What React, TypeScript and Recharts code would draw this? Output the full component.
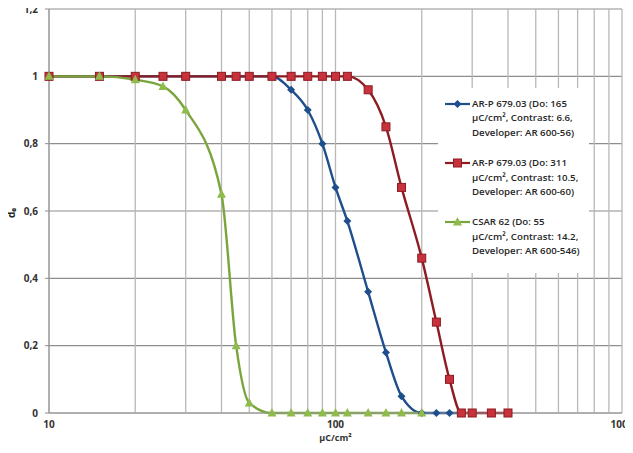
import React from "react";
import {
  LineChart,
  Line,
  XAxis,
  YAxis,
  CartesianGrid,
  Legend,
  Label,
} from "recharts";

// dose steps in µC/cm² (log axis)
const doses = [10, 15, 20, 25, 30, 40, 45, 50, 60, 70, 80, 90, 100, 110, 130, 150, 170, 200, 225, 250, 275, 300, 350, 400];

// remaining normalized film thickness per resist
const arp165 = [1, 1, 1, 1, 1, 1, 1, 1, 1, 0.96, 0.9, 0.8, 0.67, 0.57, 0.36, 0.18, 0.05, 0, 0, 0, 0, null, null, null];
const arp311 = [1, 1, 1, 1, 1, 1, 1, 1, 1, 1, 1, 1, 1, 1, 0.96, 0.85, 0.67, 0.46, 0.27, 0.1, 0, 0, 0, 0];
const csar62 = [1, 1, 0.99, 0.97, 0.9, 0.65, 0.2, 0.03, 0, 0, 0, 0, 0, 0, 0, 0, 0, 0, null, null, null, null, null, null];

const xTicks = [10, 20, 30, 40, 50, 60, 70, 80, 90, 100, 200, 300, 400, 500, 600, 700, 800, 900, 1000];
const xLabels = [10, 100, 1000];
const yTicks = [0, 0.2, 0.4, 0.6, 0.8, 1, 1.2];

const legendLabels = [
  ["AR-P 679.03 (Do: 165", "µC/cm², Contrast: 6.6,", "Developer: AR 600-56)"],
  ["AR-P 679.03 (Do: 311", "µC/cm², Contrast: 10.5,", "Developer: AR 600-60)"],
  ["CSAR 62 (Do: 55", "µC/cm², Contrast: 14.2,", "Developer: AR 600-546)"],
];

const rows = doses.map((d, i) => ({
  dose: d,
  arp165: arp165[i],
  arp311: arp311[i],
  csar62: csar62[i],
}));

const BLUE = "#1f4e8c";
const RED_LINE = "#8c1c22";
const RED_FILL = "#c8323c";
const GREEN_LINE = "#79a63c";
const GREEN_FILL = "#8fbb4c";

const FONT = "'Open Sans', 'Liberation Sans', sans-serif";

function Diamond({ cx, cy }: { cx: number; cy: number }) {
  return <path d={`M${cx},${cy - 4}L${cx + 4},${cy}L${cx},${cy + 4}L${cx - 4},${cy}Z`} fill={BLUE} />;
}

function Square({ cx, cy }: { cx: number; cy: number }) {
  return <rect x={cx - 4} y={cy - 4} width={8} height={8} fill={RED_FILL} stroke={RED_LINE} strokeWidth={1} />;
}

function Triangle({ cx, cy }: { cx: number; cy: number }) {
  return <path d={`M${cx},${cy - 5}L${cx + 4.5},${cy + 3.5}L${cx - 4.5},${cy + 3.5}Z`} fill={GREEN_FILL} />;
}

const markers = [Diamond, Square, Triangle];
const lineColors = [BLUE, RED_LINE, GREEN_LINE];

function makeDot(Shape: typeof Diamond) {
  return (props: any) => {
    const { cx, cy, index, value } = props;
    if (value == null || cy == null || isNaN(cy)) return <g key={`e${index}`} />;
    return <Shape key={`m${index}`} cx={cx} cy={cy} />;
  };
}

function LegendBox() {
  return (
    <div
      style={{
        background: "#fff",
        width: 151,
        paddingTop: 9,
        paddingBottom: 14,
        fontFamily: FONT,
        fontSize: 9.7,
        fontWeight: 600,
        color: "#262626",
        lineHeight: "14.4px",
      }}
    >
      {legendLabels.map((lines, i) => {
        const Shape = markers[i];
        return (
          <div key={i} style={{ display: "flex", marginBottom: i < 2 ? 16 : 0 }}>
            <svg width={34} height={14} style={{ flex: "none" }}>
              <line x1={7} y1={7} x2={32} y2={7} stroke={lineColors[i]} strokeWidth={2.2} />
              <Shape cx={19.5} cy={7} />
            </svg>
            <div style={{ whiteSpace: "nowrap" }}>
              {lines.map((t, j) => (
                <div key={j}>{t}</div>
              ))}
            </div>
          </div>
        );
      })}
    </div>
  );
}

export default function App() {
  const tickStyle = { fontSize: 10, fontFamily: FONT, fontWeight: 700, fill: "#333" };
  return (
    <div style={{ margin: -8, width: 633, height: 453, background: "#fff" }}>
      <LineChart width={633} height={453} data={rows} margin={{ top: 9, right: 11, left: 0, bottom: 0 }}>
        <CartesianGrid vertical={false} stroke="#8e8e8e" strokeWidth={1.2} />
        <CartesianGrid horizontal={false} stroke="#b8b8b8" strokeWidth={1.3} />
        <XAxis
          dataKey="dose"
          type="number"
          scale="log"
          domain={[10, 1000]}
          ticks={xTicks}
          interval={0}
          tickFormatter={(v: number) => (xLabels.includes(v) ? String(v) : "")}
          tick={tickStyle}
          tickLine={false}
          stroke="#9a9a9a"
          height={40}
        >
          <Label
            value="µC/cm²"
            position="insideBottom"
            offset={12}
            style={{ fontSize: 9, fontFamily: FONT, fontWeight: 700, fill: "#333" }}
          />
        </XAxis>
        <YAxis
          type="number"
          domain={[0, 1.2]}
          ticks={yTicks}
          tickFormatter={(v: number) => String(v).replace(".", ",")}
          tick={tickStyle}
          tickSize={4}
          tickMargin={7}
          stroke="#8e8e8e"
          width={49}
        >
          <Label
            content={({ viewBox }: any) => {
              const x = viewBox.x + 11;
              const y = viewBox.y + viewBox.height / 2 + 2;
              return (
                <text
                  x={x}
                  y={y}
                  transform={`rotate(-90 ${x} ${y})`}
                  textAnchor="middle"
                  dominantBaseline="central"
                  style={{ fontSize: 10, fontFamily: FONT, fontWeight: 700, fill: "#222" }}
                >
                  d₀
                </text>
              );
            }}
          />
        </YAxis>
        <Legend
          layout="vertical"
          align="center"
          verticalAlign="middle"
          content={() => <LegendBox />}
          wrapperStyle={{ left: 438, top: 88, width: 151 }}
        />
        <Line
          dataKey="arp165"
          type="monotone"
          stroke={BLUE}
          strokeWidth={2.4}
          dot={makeDot(Diamond)}
          activeDot={false}
          isAnimationActive={false}
        />
        <Line
          dataKey="arp311"
          type="monotone"
          stroke={RED_LINE}
          strokeWidth={2.4}
          dot={makeDot(Square)}
          activeDot={false}
          isAnimationActive={false}
        />
        <Line
          dataKey="csar62"
          type="monotone"
          stroke={GREEN_LINE}
          strokeWidth={2.4}
          dot={makeDot(Triangle)}
          activeDot={false}
          isAnimationActive={false}
        />
      </LineChart>
    </div>
  );
}
